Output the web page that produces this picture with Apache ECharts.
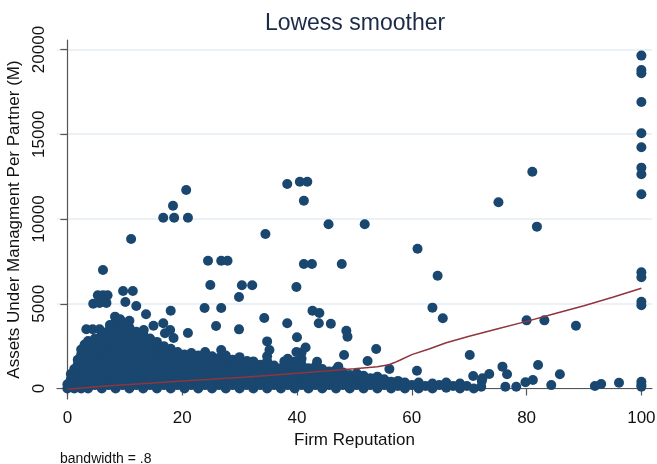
<!DOCTYPE html>
<html>
<head>
<meta charset="utf-8">
<script src="https://cdn.jsdelivr.net/npm/echarts@6/dist/echarts.min.js"></script>
<style>
html,body{margin:0;padding:0;background:#fff;}
#chart{width:657px;height:464px;}
</style>
</head>
<body>
<div id="chart"></div>
<script>
// ---- data ----
const titleText = 'Lowess smoother';
const xTitle = 'Firm Reputation';
const yTitle = 'Assets Under Managment Per Partner (M)';
const noteText = 'bandwidth = .8';
const xTicks = [0, 20, 40, 60, 80, 100];
const yTicks = [0, 5000, 10000, 15000, 20000];

// dense mass of firms near the bottom: [reputation, list of assets values]
const denseMass = [
  [0.0, [0, 250]],
  [0.6, [150, 550, 850]],
  [1.2, [0, 380, 760, 1150]],
  [1.8, [200, 600, 1000, 1400, 1700]],
  [2.4, [0, 400, 800, 1200, 1600, 2000, 2300]],
  [3.0, [200, 600, 1000, 1400, 1800, 2200, 2600]],
  [3.6, [0, 400, 800, 1200, 1600, 2000, 2400, 2800]],
  [4.8, [200, 600, 1000, 1400, 1800, 2200, 2600, 2950]],
  [6.0, [0, 400, 800, 1200, 1600, 2000, 2400, 2800, 3200]],
  [7.2, [200, 600, 1000, 1400, 1800, 2200, 2600, 3000, 3400]],
  [8.4, [0, 400, 800, 1200, 1600, 2000, 2400, 2800, 3200, 3600, 3950]],
  [9.6, [200, 600, 1000, 1400, 1800, 2200, 2600, 3000, 3400, 3800]],
  [10.8, [0, 400, 800, 1200, 1600, 2000, 2400, 2800, 3200, 3600, 4000]],
  [12.0, [200, 600, 1000, 1400, 1800, 2200, 2600, 3000, 3350]],
  [13.2, [0, 400, 800, 1200, 1600, 2000, 2400, 2800, 3200]],
  [14.4, [200, 600, 1000, 1400, 1800, 2200, 2600, 2950]],
  [15.6, [0, 400, 800, 1200, 1600, 2000, 2400, 2750]],
  [16.8, [200, 600, 1000, 1400, 1800, 2200, 2500]],
  [18.0, [0, 400, 800, 1200, 1600, 2000, 2350]],
  [19.2, [200, 600, 1000, 1400, 1800, 2150]],
  [20.4, [0, 400, 800, 1200, 1600, 2000]],
  [21.6, [200, 600, 1000, 1400, 1800, 2100]],
  [22.8, [0, 400, 800, 1200, 1600, 1950]],
  [24.0, [200, 600, 1000, 1400, 1800, 2150]],
  [25.2, [0, 400, 800, 1200, 1600, 1900]],
  [26.4, [200, 600, 1000, 1400, 1800]],
  [27.6, [0, 400, 800, 1200, 1600, 1950]],
  [28.8, [200, 600, 1000, 1400, 1700]],
  [30.0, [0, 400, 800, 1200, 1600, 1850]],
  [31.2, [200, 600, 1000, 1400]],
  [32.4, [0, 400, 800, 1200, 1600]],
  [33.6, [200, 600, 1000, 1400]],
  [34.8, [0, 400, 800, 1200, 1600, 1900]],
  [36.0, [200, 600, 1000, 1350]],
  [37.2, [0, 400, 800, 1200]],
  [38.4, [200, 600, 1000, 1400, 1750]],
  [39.6, [0, 400, 800, 1200, 1600]],
  [40.8, [200, 600, 1000, 1400, 1750]],
  [42.0, [0, 400, 800, 1200]],
  [43.2, [200, 600, 1000, 1300]],
  [44.4, [0, 400, 800, 1150]],
  [45.6, [200, 600, 1000]],
  [46.8, [0, 400, 800, 1100]],
  [48.0, [200, 600, 950]],
  [49.2, [0, 400, 800]],
  [50.4, [200, 600, 900]],
  [51.6, [0, 400, 750]],
  [52.8, [200, 600]],
  [54.0, [0, 400, 700]],
  [55.2, [200, 550]],
  [56.4, [0, 400]],
  [57.6, [150, 450]],
  [58.8, [0, 350]],
  [60.0, [200]],
  [61.2, [0, 350]],
  [62.4, [150]],
  [63.6, [0, 300]],
  [64.8, [200]],
  [66.0, [50, 350]],
  [67.2, [150]],
  [68.4, [0, 300]],
  [69.6, [150]],
  [70.8, [0]]
];

// scattered firms above the mass: [reputation, assets]
const scatteredFirms = [
  [3.3, 3500], [4.4, 3500], [5.6, 3500], [6.0, 3320], [7.4, 3750], [8.3, 4240], [9.2, 4080],
  [4.5, 5000], [5.3, 5500], [6.2, 5500], [7.0, 5500], [5.6, 5050], [6.8, 5050], [6.1, 5250],
  [6.2, 6990], [9.7, 5750], [11.4, 5750], [10.1, 5100], [12.0, 4870], [13.7, 4380],
  [18.0, 4590], [15.0, 3700], [16.7, 3850], [17.9, 3450], [18.5, 2980], [13.3, 3450], [17.0, 3260],
  [21.0, 3275], [11.1, 8820], [16.7, 10077], [18.6, 10077], [21.0, 10077], [18.4, 10786],
  [20.7, 11711], [24.5, 7540], [26.8, 7540], [27.9, 7540], [24.9, 6106], [23.9, 4750],
  [26.8, 4750], [25.9, 3687], [26.8, 2271], [30.4, 6090], [32.2, 6090], [29.9, 5400],
  [29.9, 3490], [34.3, 4160], [34.8, 2780], [35.2, 2270], [34.5, 9115], [38.3, 12065],
  [40.5, 12200], [41.8, 12200], [41.2, 11080], [45.5, 9690], [51.8, 9690], [41.2, 7345],
  [42.6, 7345], [47.8, 7345], [39.9, 5990], [42.7, 4590], [43.9, 4450], [43.8, 3850],
  [38.3, 3850], [45.9, 3820], [48.6, 3410], [48.8, 3060], [40.0, 3020], [41.5, 2420],
  [40.8, 2130], [39.9, 2150], [48.2, 1975], [53.8, 2330], [52.3, 1620], [56.1, 1150],
  [31.3, 1620], [37.8, 1600], [28.9, 1580], [43.5, 1580], [47.2, 1290], [60.9, 1050],
  [61.0, 8250], [64.5, 6655], [63.6, 4770], [65.4, 4140], [75.1, 10985], [81.0, 12790],
  [81.8, 9550], [80.0, 4020], [83.1, 4020], [88.6, 3705], [70.1, 1975], [75.8, 1290],
  [76.6, 840], [82.0, 1390], [85.8, 840], [70.7, 740], [73.5, 855], [72.3, 600],
  [72.1, 100], [72.2, 450], [76.3, 100], [78.2, 100], [79.8, 365], [81.1, 500],
  [84.3, 200], [91.9, 150], [93.0, 265], [96.1, 340]
];

// firms with the top reputation score (100)
const topRatedAssets = [19640, 18790, 18600, 16900, 15060, 14230, 13030, 12640, 11460,
  6860, 6560, 5120, 4910, 400, 200, 100];

// lowess smoother curve
const lowessX = [0, 5, 10, 15, 20, 25, 30, 35, 40, 45, 50, 54, 56, 57, 58, 60, 63, 66, 70, 75, 80, 85, 90, 95, 100];
const lowessY = [-40, 110, 220, 330, 440, 540, 650, 770, 900, 1030, 1170, 1290, 1400, 1530, 1680, 2000, 2330, 2700, 3080, 3520, 3960, 4420, 4880, 5380, 5910];

// ---- build series data ----
const points = [];
denseMass.forEach(function (c) { c[1].forEach(function (v) { points.push([c[0], v]); }); });
scatteredFirms.forEach(function (p) { points.push(p); });
topRatedAssets.forEach(function (v) { points.push([100, v]); });
const lowessData = lowessX.map(function (x, i) { return [x, lowessY[i]]; });

const FONT = "'Liberation Sans', Arial, sans-serif";
const plain = function (v) { return String(v); };
const chart = echarts.init(document.getElementById('chart'), null, { renderer: 'canvas' });
chart.setOption({
  backgroundColor: '#ffffff',
  animation: false,
  textStyle: { fontFamily: FONT },
  grid: { left: 57, right: 5, top: 40, bottom: 65, containLabel: false, outerBoundsMode: 'none' },
  xAxis: {
    type: 'value', min: -1.81, max: 101.85,
    name: xTitle, nameLocation: 'middle', nameGap: 33,
    nameTextStyle: { fontSize: 17, color: '#111', fontFamily: FONT },
    axisLine: { show: true, lineStyle: { color: '#555', width: 1.2 } },
    axisTick: { show: true, customValues: xTicks, length: 7, lineStyle: { color: '#555', width: 1.2 } },
    axisLabel: { customValues: xTicks, formatter: plain, fontSize: 17, color: '#111', margin: 11, fontFamily: FONT },
    splitLine: { show: false }
  },
  yAxis: {
    type: 'value', min: -619, max: 20560,
    name: yTitle, nameLocation: 'middle', nameRotate: 90, nameGap: 27,
    nameTextStyle: { fontSize: 17, color: '#111', fontFamily: FONT },
    axisLine: { show: true, lineStyle: { color: '#555', width: 1.2 } },
    axisTick: { show: true, customValues: yTicks, length: 7, lineStyle: { color: '#555', width: 1.2 } },
    axisLabel: { customValues: yTicks, formatter: plain, rotate: 90, fontSize: 17, color: '#111', margin: 9, fontFamily: FONT },
    splitLine: { show: true, lineStyle: { color: '#e6edf3', width: 1.5 } }
  },
  graphic: [
    { type: 'text', x: 355, y: 24, style: { text: titleText, fontSize: 23, fill: '#1c2a48', fontFamily: FONT, align: 'center', verticalAlign: 'middle' }, z: 10 },
    { type: 'text', left: 60, top: 452, style: { text: noteText, fontSize: 14, fill: '#111', fontFamily: FONT } }
  ],
  series: [
    {
      type: 'scatter', data: points, symbol: 'circle', symbolSize: 10,
      itemStyle: { color: '#1a476f', opacity: 1 }, z: 2, silent: true
    },
    {
      type: 'line', data: lowessData, showSymbol: false, symbol: 'none', smooth: false,
      lineStyle: { color: '#90353b', width: 1.5 }, z: 3, silent: true
    }
  ]
});
</script>
</body>
</html>
